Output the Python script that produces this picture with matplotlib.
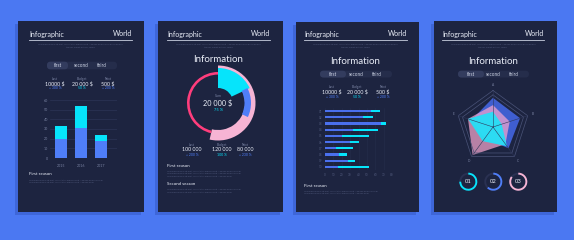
import numpy as np
import matplotlib
matplotlib.use("Agg")
import matplotlib.pyplot as plt
from matplotlib.patches import Rectangle, FancyBboxPatch, Wedge

W, H = 574, 240
FONT = "Lato"

# ---------------- data ----------------
tab_labels = ["first", "second", "third"]
stat_labels = ["Last", "Budget", "Next"]

p1_values = ["10000 $", "20 000 $", "500 $"]
p1_pcts = ["+ 300 %", "50 %", "+ 200 %"]
years = ["2015", "2016", "2017"]
bar_base = [20, 31.5, 18]
bar_top = [13, 22.5, 6]
bar_yticks = [0, 10, 20, 30, 40, 50, 60]

donut_red = 46.4
donut_pink = 53.6
donut_cyan = 18
donut_blue = 14.5
donut_sum = "20 000 $"
donut_pct = "75 %"
p2_values = ["100 000", "120 000", "80 000"]
p2_pcts = ["+ 200 %", "100 %", "+ 230 %"]

p3_values = ["10000 $", "20 000 $", "500 $"]
p3_pcts = ["+ 300 %", "50 %", "+ 200 %"]
hbar_labels = ["01", "02", "03", "04", "05", "06", "07", "08", "09", "10"]
hbar_blue = [55, 45, 67, 33, 20, 30, 13, 17, 28, 15]
hbar_total = [66, 57, 73, 63, 53, 41, 33, 26, 36, 53]
hbar_xticks = [0, 10, 20, 30, 40, 50, 60, 70, 80]

radar_axes = ["A", "B", "C", "D", "E"]
radar_blue = [0.80, 0.78, 0.72, 0.38, 0.62]
radar_pink = [0.60, 0.48, 0.58, 0.95, 0.72]
radar_cyan = [0.42, 0.25, 0.65, 0.48, 0.72]
ring_labels = ["01", "02", "03"]
ring_values = [75, 62, 85]

# ---------------- style ----------------
BG = "#4b78f2"
PANEL = "#1d2440"
PILL = "#252d4b"
PILL_ON = "#333c5e"
WHITE = "#e9edf7"
GRAY = "#7b84a4"
DIM = "#535c7e"
GRID = "#2c3456"
BLUE = "#4f7ef8"
CYAN = "#06e4fb"
RED = "#ff3d7c"
PINK = "#f6b4d4"
LOREM1 = "Lorem ipsum dolor sit amet, consectetur adipiscing elit. Nam sed dolor"
LOREM2 = "tempus, aliquet ante vel, cursus."

fig = plt.figure(figsize=(W / 100, H / 100), dpi=100, facecolor=BG)
ax0 = fig.add_axes([0, 0, 1, 1])
ax0.set_xlim(0, W)
ax0.set_ylim(H, 0)
ax0.axis("off")
ax0.set_facecolor(BG)


def px_axes(x0, y0, x1, y1, **kw):
    return fig.add_axes([x0 / W, 1 - y1 / H, (x1 - x0) / W, (y1 - y0) / H], **kw)


def txt(x, y, s, size, color=WHITE, ha="center", weight="normal"):
    ax0.text(x, y, s, fontsize=size, color=color, ha=ha, va="center",
             family=FONT, fontweight=weight)


panels = [(18, 21, 144, 212), (158, 21, 283, 212), (296, 22, 419, 212), (434, 21, 557, 212)]
for (x0, y0, x1, y1) in panels:
    ax0.add_patch(Rectangle((x0 - 3, y0 + 3), x1 - x0, y1 - y0, color="#3e66d8", lw=0))
    ax0.add_patch(Rectangle((x0, y0), x1 - x0, y1 - y0, color=PANEL, lw=0))


def header(xl, xr):
    txt(xl, 34, "Infographic", 5, ha="left")
    txt(xr, 34, "World", 5, ha="right")
    ax0.plot([xl, xr], [40, 40], color="#c9cfe0", lw=0.6)
    xc = (xl + xr) / 2
    txt(xc, 44.3, LOREM1 + " " + LOREM1[:20], 1.5, DIM)
    txt(xc, 46.8, LOREM2, 1.5, DIM)


def pill(x0, x1, xon, y0, y1, xs):
    ax0.add_patch(FancyBboxPatch((x0, y0), x1 - x0, y1 - y0,
                                 boxstyle="round,pad=0,rounding_size=3.5",
                                 color=PILL, lw=0))
    ax0.add_patch(FancyBboxPatch((x0, y0), xon - x0, y1 - y0,
                                 boxstyle="round,pad=0,rounding_size=3.5",
                                 color=PILL_ON, lw=0))
    for x, s in zip(xs, tab_labels):
        txt(x, (y0 + y1) / 2, s, 3.3, "#cfd5e6")


def stats(xs, ys, values, pcts):
    for i, x in enumerate(xs):
        txt(x, ys[0], stat_labels[i], 2.3, GRAY)
        txt(x, ys[1], values[i], 3.8, WHITE)
        txt(x, ys[2], pcts[i], 2.5, CYAN if i == 1 else BLUE)


def season(x, y, title, n=2):
    txt(x, y, title, 3.2, WHITE, ha="left")
    for k in range(n):
        s = LOREM1 + " " + LOREM1[:8] if k < n - 1 else LOREM1
        txt(x, y + 5.5 + k * 2.5, s, 1.5, DIM, ha="left")


# ---------------- panel 1 ----------------
header(29, 132)
pill(47, 117, 68, 61.7, 69.3, [58, 81, 102])
stats([55, 82, 108], [78.7, 83.3, 88.3], p1_values, p1_pcts)

axb = px_axes(50, 100, 117, 158)
axb.set_facecolor("none")
xb = np.arange(len(years))
axb.bar(xb, bar_base, width=0.62, color=BLUE, zorder=2)
axb.bar(xb, bar_top, bottom=bar_base, width=0.62, color=CYAN, zorder=2)
axb.set_xlim(-0.55, 2.8)
axb.set_ylim(0, 60)
axb.set_yticks(bar_yticks)
axb.set_xticks(xb)
axb.set_xticklabels(years)
axb.yaxis.grid(True, color=GRID, lw=0.5)
axb.set_axisbelow(True)
for s in axb.spines.values():
    s.set_visible(False)
axb.tick_params(length=0, labelsize=2.6, colors=GRAY, pad=1.5)
axb.tick_params(axis="x", pad=4)
for lab in axb.get_xticklabels() + axb.get_yticklabels():
    lab.set_family(FONT)
season(29, 174.3, "First season")

# ---------------- panel 2 ----------------
header(167, 270)
txt(218, 60, "Information", 7, WHITE)
axd = px_axes(178, 63, 258, 143)
axd.set_facecolor("none")
axd.pie([donut_red, donut_pink], radius=37.5, startangle=90, counterclock=True,
        colors=["none", PINK], wedgeprops=dict(width=10.5, linewidth=0))
axd.pie([donut_red, donut_pink], radius=31, startangle=90, counterclock=True,
        colors=[RED, "none"], wedgeprops=dict(width=2.6, linewidth=0))
axd.pie([donut_cyan, 100 - donut_cyan], radius=35, startangle=90, counterclock=False,
        colors=[CYAN, "none"], wedgeprops=dict(width=20, linewidth=0))
axd.pie([donut_blue, 100 - donut_blue], radius=33, startangle=27, counterclock=False,
        colors=[BLUE, "none"], wedgeprops=dict(width=6.5, linewidth=0))
axd.set_xlim(-40, 40)
axd.set_ylim(-40, 40)
axd.set_aspect("auto")
axd.axis("off")
txt(218, 96, "Sum", 2.6, GRAY)
txt(218, 103, donut_sum, 5.2, WHITE)
txt(218, 110, donut_pct, 3, CYAN)
stats([192, 222, 245], [145, 149.5, 155], p2_values, p2_pcts)
season(167, 165.7, "First season", 3)
season(167, 184, "Second season", 2)

# ---------------- panel 3 ----------------
header(304, 407)
txt(355, 62, "Information", 7, WHITE)
pill(320, 392, 346, 70.7, 77.5, [333, 356, 377])
stats([332, 357, 383], [86.7, 91.7, 96.7], p3_values, p3_pcts)

axh = px_axes(325, 107.9, 392, 170.1)
axh.set_facecolor("none")
yh = np.arange(len(hbar_labels))
axh.barh(yh, hbar_total, height=0.34, color=CYAN, zorder=2)
axh.barh(yh, hbar_blue, height=0.34, color="#4a70ee", zorder=3)
axh.set_xlim(0, 80)
axh.set_ylim(9.5, -0.5)
axh.set_yticks(yh)
axh.set_yticklabels(hbar_labels)
axh.set_xticks(hbar_xticks)
axh.xaxis.grid(True, color="#252d4c", lw=0.4)
axh.set_axisbelow(True)
for s in axh.spines.values():
    s.set_visible(False)
axh.tick_params(length=0, labelsize=2.2, colors=DIM, pad=2)
for lab in axh.get_xticklabels() + axh.get_yticklabels():
    lab.set_family(FONT)
season(304, 185.7, "First season")

# ---------------- panel 4 ----------------
header(442, 544)
txt(493, 62, "Information", 7, WHITE)
pill(458, 529, 484, 70.7, 77.5, [471, 493, 514])

axr = px_axes(453, 87, 533, 167)
axr.set_facecolor("none")
R = 36.5
ang = np.deg2rad(90 - 72 * np.arange(len(radar_axes)))
for lvl in [1.0, 0.88]:
    axr.plot(np.append(R * lvl * np.cos(ang), R * lvl * np.cos(ang[0])),
             np.append(R * lvl * np.sin(ang), R * lvl * np.sin(ang[0])),
             color="#4a5378", lw=0.5)
for a in ang:
    axr.plot([0, R * np.cos(a)], [0, R * np.sin(a)], color="#2e365a", lw=0.4)
for vals, col, al in [(radar_blue, "#4262d8", 0.95), (radar_pink, "#f4a6cf", 0.72),
                      (radar_cyan, "#1fe2f7", 0.92)]:
    v = np.array(vals) * R
    axr.fill(v * np.cos(ang), v * np.sin(ang), color=col, alpha=al, lw=0)
for a, s in zip(ang, radar_axes):
    axr.text(1.14 * R * np.cos(a), 1.14 * R * np.sin(a), s, fontsize=2.3,
             color=GRAY, ha="center", va="center", family=FONT)
axr.set_xlim(-40, 40)
axr.set_ylim(-40, 40)
axr.axis("off")

axc = px_axes(455, 170, 531, 194)
axc.set_facecolor("none")
ring_cols = [CYAN, BLUE, PINK]
ring_x = [468.3, 493.3, 518.3]
for x, v, c, s in zip(ring_x, ring_values, ring_cols, ring_labels):
    axc.add_patch(Wedge((x, 12.3), 9, 0, 360, width=1.9, color="#2a3152", lw=0))
    axc.add_patch(Wedge((x, 12.3), 9, 90 - 3.6 * v, 90, width=1.9, color=c, lw=0))
    axc.text(x, 12.3, s, fontsize=4.2, color=WHITE, ha="center", va="center", family=FONT)
axc.set_xlim(455, 531)
axc.set_ylim(0, 24)
axc.axis("off")

fig.savefig("out.png", dpi=100, facecolor=BG)
